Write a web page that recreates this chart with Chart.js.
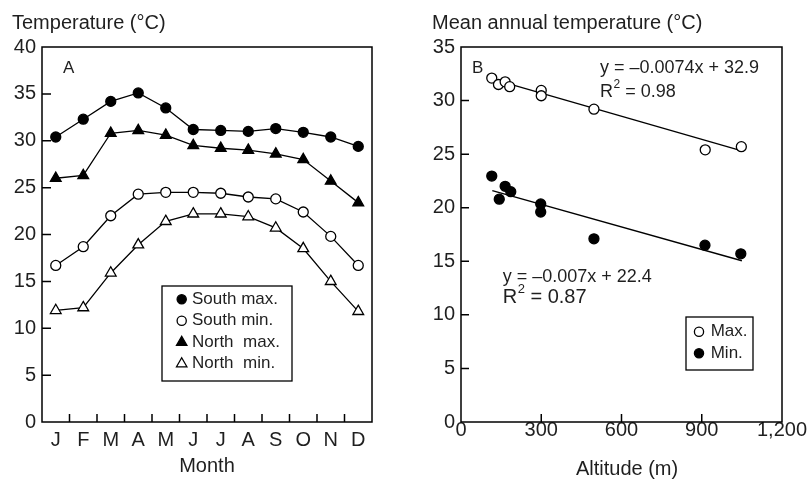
<!DOCTYPE html>
<html>
<head>
<meta charset="utf-8">
<script src="https://cdn.jsdelivr.net/npm/chart.js@4.4.0/dist/chart.umd.min.js"></script>
<style>
	body { margin: 0; background: #fff; }
	#wrap { position: relative; width: 809px; height: 480px; }
	#chartA { position: absolute; left: 0; top: 0; }
	#chartB { position: absolute; left: 400px; top: 0; }
</style>
</head>
<body>
<div id="wrap">
	<canvas id="chartA" width="400" height="480"></canvas>
	<canvas id="chartB" width="409" height="480"></canvas>
</div>
<script>
// Panel A: monthly temperatures
const months = ["J", "F", "M", "A", "M", "J", "J", "A", "S", "O", "N", "D"]
const southMax = [30.4, 32.3, 34.2, 35.1, 33.5, 31.2, 31.1, 31.0, 31.3, 30.9, 30.4, 29.4]
const southMin = [16.7, 18.7, 22.0, 24.3, 24.5, 24.5, 24.4, 24.0, 23.8, 22.4, 19.8, 16.7]
const northMax = [26.0, 26.3, 30.8, 31.1, 30.6, 29.5, 29.2, 29.0, 28.6, 28.0, 25.7, 23.4]
const northMin = [11.9, 12.2, 15.9, 18.9, 21.4, 22.2, 22.2, 21.9, 20.7, 18.5, 15.0, 11.8]

// Panel B: mean annual temperature vs altitude
const maxAlt = [115, 140, 165, 182, 300, 300, 497, 913, 1048]
const maxTemp = [32.1, 31.5, 31.75, 31.3, 30.95, 30.45, 29.2, 25.4, 25.7]
const minAlt = [115, 143, 165, 186, 298, 298, 497, 912, 1046]
const minTemp = [22.95, 20.8, 22.0, 21.5, 20.35, 19.6, 17.1, 16.5, 15.7]
const maxFitAlt = [118, 1050]
const maxFitTemp = [32.0, 25.3]
const minFitAlt = [117, 1050]
const minFitTemp = [21.6, 15.05]

const FONT = "Liberation Sans"
const INK = "#1f1f1f"

function pts(xs, ys) {
	return xs.map((x, i) => ({ x: x, y: ys[i] }))
}

function drawMarker(ctx, style, filled, x, y, r) {
	ctx.beginPath()
	if (style === "triangle") {
		ctx.moveTo(x, y - r)
		ctx.lineTo(x + r * 0.866, y + r / 2)
		ctx.lineTo(x - r * 0.866, y + r / 2)
		ctx.closePath()
	} else {
		ctx.arc(x, y, r, 0, Math.PI * 2)
	}
	ctx.fillStyle = filled ? "#000" : "#fff"
	ctx.fill()
	ctx.lineWidth = 1.3
	ctx.strokeStyle = "#000"
	ctx.stroke()
}

function drawR2(ctx, x, y, value, size) {
	ctx.font = size + "px '" + FONT + "'"
	ctx.textBaseline = "middle"
	ctx.textAlign = "left"
	ctx.fillText("R", x, y)
	let w = ctx.measureText("R").width
	ctx.font = Math.round(size * 0.65) + "px '" + FONT + "'"
	ctx.fillText("2", x + w + 0.5, y - size * 0.38)
	w += ctx.measureText("2").width + 0.5
	ctx.font = size + "px '" + FONT + "'"
	ctx.fillText(" = " + value, x + w, y)
}

// frame around the plot area and inward tick marks
function framePlugin(categoryX, xLen, yLen) {
	return {
		id: "frame",
		afterDraw(chart) {
			const { ctx, chartArea: a, scales } = chart
			ctx.save()
			ctx.strokeStyle = "#000"
			ctx.lineWidth = 1.5
			ctx.strokeRect(a.left, a.top, a.right - a.left, a.bottom - a.top)
			ctx.beginPath()
			const xs = []
			if (categoryX) {
				for (let i = 0; i < months.length - 1; i++) {
					xs.push((scales.x.getPixelForValue(i) + scales.x.getPixelForValue(i + 1)) / 2)
				}
			} else {
				scales.x.ticks.forEach((t) => {
					if (t.value > scales.x.min && t.value < scales.x.max) xs.push(scales.x.getPixelForValue(t.value))
				})
			}
			xs.forEach((px) => {
				ctx.moveTo(px, a.bottom)
				ctx.lineTo(px, a.bottom - xLen)
			})
			scales.y.ticks.forEach((t) => {
				if (t.value > scales.y.min && t.value < scales.y.max) {
					const py = scales.y.getPixelForValue(t.value)
					ctx.moveTo(a.left, py)
					ctx.lineTo(a.left + yLen, py)
				}
			})
			ctx.stroke()
			ctx.restore()
		},
	}
}

function lineSet(label, data, style, filled) {
	return {
		label: label,
		data: data,
		borderColor: "#000",
		borderWidth: 1.3,
		pointStyle: style,
		pointRadius: style === "triangle" ? 6.2 : 5,
		pointBorderWidth: 1.3,
		pointBorderColor: "#000",
		pointBackgroundColor: filled ? "#000" : "#fff",
		tension: 0,
	}
}

const tickFont = { family: FONT, size: 20 }
const titleFont = { family: FONT, size: 20, weight: "normal" }

// Chart A
new Chart(document.getElementById("chartA"), {
	type: "line",
	data: {
		labels: months,
		datasets: [
			lineSet("South max.", southMax, "circle", true),
			lineSet("South min.", southMin, "circle", false),
			lineSet("North  max.", northMax, "triangle", true),
			lineSet("North  min.", northMin, "triangle", false),
		],
	},
	options: {
		responsive: false,
		animation: false,
		layout: { padding: { left: 12, right: 28, top: 0, bottom: 0 } },
		plugins: {
			legend: { display: false },
			tooltip: { enabled: false },
			title: {
				display: true,
				text: "Temperature (°C)",
				align: "start",
				color: INK,
				font: titleFont,
				padding: { top: 11, bottom: 12 },
			},
		},
		scales: {
			x: {
				offset: true,
				grid: { display: false, drawTicks: false },
				border: { display: false },
				ticks: { color: INK, font: tickFont, padding: 6, maxRotation: 0, autoSkip: false },
				title: { display: true, text: "Month", color: INK, font: titleFont, padding: { top: 0, bottom: 2 } },
				afterFit(s) { s.height = 58 },
			},
			y: {
				min: 0,
				max: 40,
				grid: { display: false, drawTicks: false },
				border: { display: false },
				ticks: { stepSize: 5, color: INK, font: tickFont, padding: 6 },
				afterFit(s) { s.width = 30 },
			},
		},
	},
	plugins: [
		framePlugin(true, 8, 9),
		{
			id: "notesA",
			afterDraw(chart) {
				const { ctx, chartArea: a } = chart
				const sets = chart.data.datasets
				ctx.save()
				ctx.fillStyle = INK
				ctx.font = "17px '" + FONT + "'"
				ctx.textBaseline = "middle"
				ctx.fillText("A", a.left + 21, a.top + 21)
				const bx = a.left + 120
				const by = a.top + 239
				ctx.lineWidth = 1.3
				ctx.strokeStyle = "#000"
				ctx.strokeRect(bx, by, 130, 95)
				sets.forEach((d, i) => {
					const y = by + 13.3 + i * 21.5
					drawMarker(ctx, d.pointStyle, d.pointBackgroundColor === "#000", bx + 19.7, y, d.pointStyle === "triangle" ? 6 : 4.6)
					ctx.fillStyle = INK
					ctx.font = "17px '" + FONT + "'"
					ctx.textBaseline = "middle"
					ctx.fillText(d.label, bx + 30, y)
				})
				ctx.restore()
			},
		},
	],
})

// Chart B
new Chart(document.getElementById("chartB"), {
	type: "scatter",
	data: {
		datasets: [
			{
				label: "Max.",
				data: pts(maxAlt, maxTemp),
				pointRadius: 5,
				pointBorderWidth: 1.3,
				pointBorderColor: "#000",
				pointBackgroundColor: "#fff",
				showLine: false,
			},
			{
				label: "Min.",
				data: pts(minAlt, minTemp),
				pointRadius: 5,
				pointBorderWidth: 1.3,
				pointBorderColor: "#000",
				pointBackgroundColor: "#000",
				showLine: false,
			},
			{
				label: "fitMax",
				type: "line",
				data: pts(maxFitAlt, maxFitTemp),
				borderColor: "#000",
				borderWidth: 1.3,
				pointRadius: 0,
			},
			{
				label: "fitMin",
				type: "line",
				data: pts(minFitAlt, minFitTemp),
				borderColor: "#000",
				borderWidth: 1.3,
				pointRadius: 0,
			},
		],
	},
	options: {
		responsive: false,
		animation: false,
		layout: { padding: { left: 32, right: 27, top: 0, bottom: 0 } },
		plugins: {
			legend: { display: false },
			tooltip: { enabled: false },
			title: {
				display: true,
				text: "Mean annual temperature (°C)",
				align: "start",
				color: INK,
				font: titleFont,
				padding: { top: 11, bottom: 12 },
			},
		},
		scales: {
			x: {
				type: "linear",
				min: 0,
				max: 1200,
				grid: { display: false, drawTicks: false },
				border: { display: false },
				ticks: { stepSize: 300, color: INK, font: tickFont, padding: -3.5, maxRotation: 0 },
				title: { display: true, text: "  Altitude (m)", color: INK, font: titleFont, padding: { top: 0, bottom: -1 } },
				afterFit(s) { s.height = 58 },
			},
			y: {
				min: 0,
				max: 35,
				grid: { display: false, drawTicks: false },
				border: { display: false },
				ticks: { stepSize: 5, color: INK, font: tickFont, padding: 6 },
				afterFit(s) { s.width = 29 },
			},
		},
	},
	plugins: [
		framePlugin(false, 8, 8),
		{
			id: "notesB",
			afterDraw(chart) {
				const { ctx, chartArea: a } = chart
				ctx.save()
				ctx.fillStyle = INK
				ctx.textBaseline = "middle"
				ctx.font = "17px '" + FONT + "'"
				ctx.fillText("B", a.left + 11, a.top + 21)
				ctx.font = "18px '" + FONT + "'"
				ctx.fillText("y = \u20130.0074x + 32.9", a.left + 139, a.top + 21)
				drawR2(ctx, a.left + 139, a.top + 44.7, "0.98", 18)
				ctx.font = "18px '" + FONT + "'"
				ctx.fillText("y = \u20130.007x + 22.4", a.left + 41.7, a.top + 229.7)
				drawR2(ctx, a.left + 41.7, a.top + 250, "0.87", 20)
				// legend box
				const bx = a.right - 96
				const by = a.bottom - 105
				ctx.lineWidth = 1.3
				ctx.strokeStyle = "#000"
				ctx.strokeRect(bx, by, 67, 53)
				chart.data.datasets.slice(0, 2).forEach((d, i) => {
					const y = by + 14.7 + i * 21.6
					drawMarker(ctx, "circle", d.pointBackgroundColor === "#000", bx + 13, y, 4.6)
					ctx.fillStyle = INK
					ctx.font = "17px '" + FONT + "'"
					ctx.textBaseline = "middle"
					ctx.fillText(d.label, bx + 24.7, y)
				})
				ctx.restore()
			},
		},
	],
})
</script>
</body>
</html>
